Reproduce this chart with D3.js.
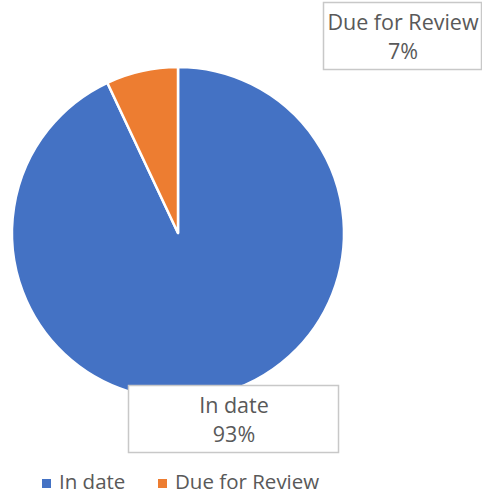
<!DOCTYPE html>
<html>
<head>
<meta charset="utf-8">
<script src="https://cdn.jsdelivr.net/npm/d3@7"></script>
<style>
body { margin: 0; background: #fff; }
text { font-family: "Open Sans", sans-serif; fill: #595959; }
</style>
</head>
<body>
<div id="chart"></div>
<script>
const categories = ['In date', 'Due for Review']
const values = [93, 7]
const labels = ['93%', '7%']
const colors = ['#4472C4', '#ED7D31']

const width = 482, height = 494
const cx = 178, cy = 233, radius = 166

let svg = d3.select('#chart')
.append('svg')
.attr('width', width)
.attr('height', height)

let pie = d3.pie().sort(null).value(d => d)
let arc = d3.arc().innerRadius(0).outerRadius(radius)

let g = svg.append('g')
.attr('transform', `translate(${cx}, ${cy})`)

g.selectAll('path')
.data(pie(values))
.join('path')
.attr('d', arc)
.attr('fill', (d, i) => colors[i])
.attr('stroke', '#fff')
.attr('stroke-width', 2.5)
.attr('stroke-linejoin', 'round')

// data label boxes (placed like the original)
const boxes = [
	{ x: 128, y: 385, w: 210, h: 67 },
	{ x: 323, y: 2, w: 158, h: 67 }
]

let lab = svg.selectAll('.label')
.data(categories)
.join('g')
.attr('class', 'label')
.attr('transform', (d, i) => `translate(${boxes[i].x}, ${boxes[i].y})`)

lab.append('rect')
.attr('x', 0.5).attr('y', 0.5)
.attr('width', (d, i) => boxes[i].w)
.attr('height', (d, i) => boxes[i].h)
.attr('fill', '#fff')
.attr('stroke', '#c8c8c8')
.attr('stroke-width', 1.5)

lab.append('text')
.attr('x', (d, i) => boxes[i].w / 2 + 1)
.attr('y', 28)
.attr('text-anchor', 'middle')
.style('font-size', '21.5px')
.text(d => d)

lab.append('text')
.attr('x', (d, i) => boxes[i].w / 2 + 1)
.attr('y', 57)
.attr('text-anchor', 'middle')
.style('font-size', '21.5px')
.text((d, i) => labels[i])

// legend
const legendX = [42, 158]
let leg = svg.selectAll('.legend')
.data(categories)
.join('g')
.attr('class', 'legend')
.attr('transform', (d, i) => `translate(${legendX[i]}, 483)`)

leg.append('rect')
.attr('x', 0).attr('y', -4)
.attr('width', 9).attr('height', 9)
.attr('fill', (d, i) => colors[i])

leg.append('text')
.attr('x', 17)
.attr('y', 6)
.style('font-size', '20.5px')
.text(d => d)
</script>
</body>
</html>
